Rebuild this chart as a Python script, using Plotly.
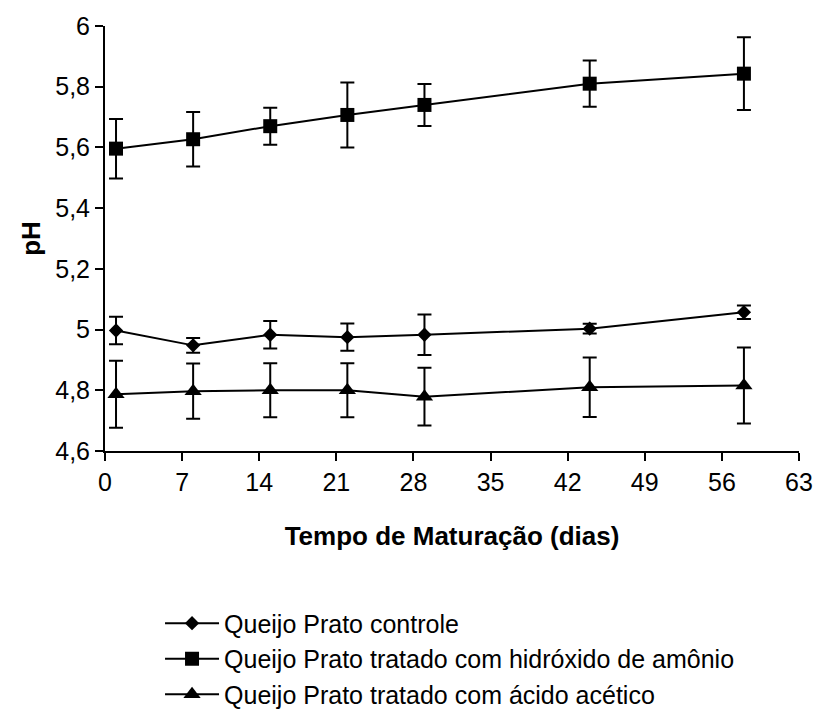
import plotly.graph_objects as go

# Tempo de maturação (dias) e pH médio com desvio padrão
dias = [1, 8, 15, 22, 29, 44, 58]

ph_controle = [4.997, 4.948, 4.983, 4.975, 4.983, 5.003, 5.057]
dp_controle = [0.045, 0.024, 0.045, 0.045, 0.067, 0.016, 0.022]

ph_amonio = [5.596, 5.627, 5.670, 5.707, 5.740, 5.810, 5.843]
dp_amonio = [0.098, 0.090, 0.061, 0.107, 0.069, 0.076, 0.120]

ph_acetico = [4.787, 4.797, 4.800, 4.800, 4.779, 4.810, 4.816]
dp_acetico = [0.110, 0.091, 0.089, 0.089, 0.095, 0.098, 0.125]

nomes = [
    "Queijo Prato controle",
    "Queijo Prato tratado com hidróxido de amônio",
    "Queijo Prato tratado com ácido acético",
]

x_ticks = [0, 7, 14, 21, 28, 35, 42, 49, 56, 63]
y_ticks = [4.6, 4.8, 5.0, 5.2, 5.4, 5.6, 5.8, 6.0]
y_ticklabels = ["4,6", "4,8", "5", "5,2", "5,4", "5,6", "5,8", "6"]

FONT = "Liberation Sans, Arial, sans-serif"

series = [
    (ph_controle, dp_controle, "diamond", 11),
    (ph_amonio, dp_amonio, "square", 14),
    (ph_acetico, dp_acetico, "triangle-up", 15),
]

fig = go.Figure()
for i, (vals, dps, simbolo, tam) in enumerate(series):
    fig.add_trace(go.Scatter(
        x=dias, y=vals, name=nomes[i],
        mode="lines+markers",
        line=dict(color="black", width=2),
        marker=dict(symbol=simbolo, size=tam, color="black"),
        error_y=dict(type="data", array=dps, visible=True,
                     color="black", thickness=2, width=7),
    ))

fig.update_layout(
    width=816, height=709,
    margin=dict(l=105, r=17, t=26, b=258, autoexpand=False),
    paper_bgcolor="white", plot_bgcolor="white",
    font=dict(family=FONT, size=25, color="black"),
    showlegend=True,
    legend=dict(
        x=0.0793, y=-0.3515, xanchor="left", yanchor="top",
        font=dict(family=FONT, size=25, color="black"),
        traceorder="normal",
        itemwidth=54, bgcolor="rgba(0,0,0,0)",
    ),
    xaxis=dict(
        range=[0, 63], tickvals=x_ticks, automargin=True,
        showline=True, linecolor="black", linewidth=2,
        ticks="outside", ticklen=8, tickwidth=2, tickcolor="black",
        showgrid=False, zeroline=False,
        title=dict(text="<b>Tempo de Maturação (dias)</b>", standoff=32,
                   font=dict(size=26)),
    ),
    yaxis=dict(
        range=[4.6, 6.0], tickvals=y_ticks, ticktext=y_ticklabels,
        automargin=True,
        showline=True, linecolor="black", linewidth=2,
        ticks="outside", ticklen=8, tickwidth=2, tickcolor="black",
        showgrid=False, zeroline=False,
        title=dict(text="<b>pH</b>", standoff=7, font=dict(size=26)),
    ),
)

fig.write_html("out.html")
